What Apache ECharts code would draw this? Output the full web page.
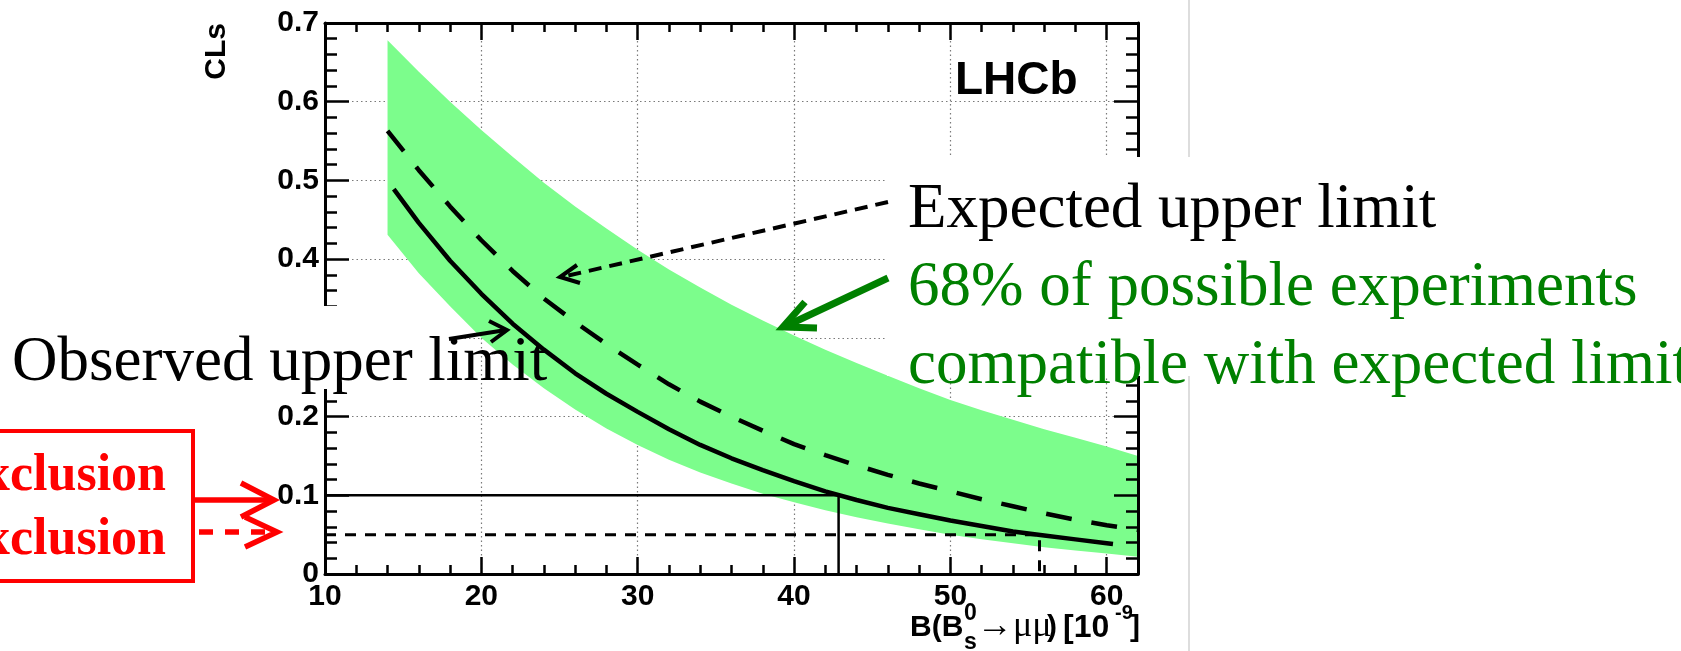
<!DOCTYPE html>
<html>
<head>
<meta charset="utf-8">
<script src="https://cdn.jsdelivr.net/npm/echarts@6/dist/echarts.min.js"></script>
<style>
  html, body { margin: 0; padding: 0; background: #fff; overflow: hidden; }
  #chart { width: 1681px; height: 651px; }
</style>
</head>
<body>
<div id="chart"></div>
<script>
// values
const xs = [14, 16, 18, 20, 22, 24, 26, 28, 30, 32, 34, 36, 38, 40, 42, 44, 46, 48, 50, 52, 54, 56, 58, 60, 62];
const bandUpper = [0.678, 0.638, 0.600, 0.564, 0.530, 0.497, 0.467, 0.439, 0.412, 0.387, 0.364, 0.342, 0.322, 0.303, 0.285, 0.268, 0.252, 0.236, 0.221, 0.208, 0.196, 0.184, 0.173, 0.162, 0.150];
const bandLower = [0.431, 0.382, 0.340, 0.300, 0.266, 0.236, 0.209, 0.185, 0.164, 0.145, 0.129, 0.115, 0.102, 0.091, 0.081, 0.072, 0.064, 0.057, 0.050, 0.044, 0.039, 0.034, 0.030, 0.026, 0.022];
const expected = [0.563, 0.513, 0.467, 0.424, 0.385, 0.350, 0.320, 0.292, 0.266, 0.241, 0.219, 0.200, 0.182, 0.165, 0.151, 0.138, 0.126, 0.115, 0.105, 0.095, 0.086, 0.077, 0.069, 0.062, 0.056];
const obsX = [14.4, 16, 18, 20, 22, 24, 26, 28, 30, 32, 34, 36, 38, 40, 42, 44, 46, 48, 50, 52, 54, 56, 58, 60, 60.4];
const observed = [0.489, 0.446, 0.398, 0.356, 0.318, 0.285, 0.255, 0.229, 0.206, 0.184, 0.164, 0.147, 0.132, 0.118, 0.105, 0.094, 0.084, 0.076, 0.068, 0.061, 0.054, 0.049, 0.044, 0.039, 0.038];

// CLs thresholds and the limits where the observed curve crosses them
const cl90 = 0.1, limit90 = 42.85;
const cl95 = 0.05, limit95 = 55.7;

const xRange = [10, 62];
const yRange = [0, 0.7];

const SANS = '"Liberation Sans", Arial, sans-serif';
const SERIF = '"Liberation Serif", "Times New Roman", serif';
const GREEN = '#008000';
const RED = '#ff0000';

const plot = { left: 325, top: 23, width: 813, height: 551 };
const tickStyle = { color: '#000', width: 2.5 };
const frameLine = { show: true, onZero: false, lineStyle: { color: '#000', width: 3 } };
const labelStyle = { fontFamily: SANS, fontWeight: 'bold', fontSize: 30, color: '#000' };
const off = { show: false };

function xAxis(gridIndex, position, interval, extra) {
  return Object.assign({
    type: 'value', gridIndex, position, min: xRange[0], max: xRange[1], interval,
    axisLine: off, axisTick: off, axisLabel: off, splitLine: off,
  }, extra);
}

function yAxis(gridIndex, position, extra) {
  return Object.assign({
    type: 'value', gridIndex, position, min: yRange[0], max: yRange[1], interval: 0.1,
    axisLine: off, axisTick: off, axisLabel: off, splitLine: off,
  }, extra);
}

const gridDots = { show: true, lineStyle: { color: '#7a7a7a', width: 1.2, type: [1.5, 3] } };
const yTicks = {
  axisLine: frameLine,
  axisTick: { show: true, inside: true, length: 24, lineStyle: tickStyle },
  minorTick: { show: true, splitNumber: 5, length: 12, lineStyle: tickStyle },
  z: 10,
};

function text(x, y, str, font, fill, align, extra) {
  return Object.assign({
    type: 'text', x, y, z: 80,
    style: { text: str, font, fill, align: align || 'left', verticalAlign: 'middle' },
  }, extra || {});
}

function polyline(points, color, width, dash) {
  return {
    type: 'polyline', z: 80,
    shape: { points },
    style: { stroke: color, lineWidth: width, fill: null, lineDash: dash || null, lineJoin: 'miter' },
  };
}

// 68% band: polygon along the upper edge and back along the lower edge
function renderBand(params, api) {
  const top = xs.map((x, i) => api.coord([x, bandUpper[i]]));
  const bottom = xs.map((x, i) => api.coord([x, bandLower[i]])).reverse();
  return {
    type: 'polygon',
    shape: { points: top.concat(bottom) },
    style: { fill: '#7cfd8c' },
  };
}

const option = {
  animation: false,
  backgroundColor: '#fff',
  grid: [Object.assign({}, plot), Object.assign({}, plot), Object.assign({}, plot)],
  xAxis: [
    xAxis(0, 'bottom', 10, { splitLine: gridDots }),
    xAxis(1, 'bottom', 10, {
      z: 10, axisLine: frameLine,
      axisTick: { show: true, inside: true, length: 17, lineStyle: tickStyle },
      axisLabel: Object.assign({ show: true, margin: 8, showMaxLabel: false }, labelStyle),
    }),
    xAxis(1, 'top', 10, {
      z: 10, axisLine: frameLine,
      axisTick: { show: true, inside: true, length: 17, lineStyle: tickStyle },
    }),
    xAxis(2, 'bottom', 2, { z: 10, axisTick: { show: true, inside: true, length: 9, lineStyle: tickStyle } }),
    xAxis(2, 'top', 2, { z: 10, axisTick: { show: true, inside: true, length: 9, lineStyle: tickStyle } }),
  ],
  yAxis: [
    yAxis(0, 'left', { splitLine: gridDots }),
    yAxis(1, 'left', Object.assign({
      axisLabel: Object.assign({ show: true, margin: 6 }, labelStyle),
    }, yTicks)),
    yAxis(1, 'right', yTicks),
    yAxis(2, 'left', { show: false }),
  ],
  series: [
    {
      type: 'custom', silent: true, z: 2,
      data: [[xs[0], bandLower[0]]],
      renderItem: renderBand,
    },
    {
      type: 'line', symbol: 'none', z: 3,
      data: [[xRange[0], cl90], [limit90, cl90], [limit90, 0]],
      lineStyle: { color: '#000', width: 2.5 },
    },
    {
      type: 'line', symbol: 'none', z: 3,
      data: [[xRange[0], cl95], [limit95, cl95], [limit95, 0]],
      lineStyle: { color: '#000', width: 3, type: [11, 9] },
    },
    {
      type: 'line', symbol: 'none', z: 4,
      data: xs.map((x, i) => [x, expected[i]]),
      lineStyle: { color: '#000', width: 4.5, type: [26, 20] },
    },
    {
      type: 'line', symbol: 'none', z: 4,
      data: obsX.map((x, i) => [x, observed[i]]),
      lineStyle: { color: '#000', width: 4.5 },
    },
  ],
  graphic: [
    // slide divider and the white boxes behind the annotations
    { type: 'line', z: 50, shape: { x1: 1189, y1: 0, x2: 1189, y2: 651 }, style: { stroke: '#d2d2d2', lineWidth: 1.5 } },
    { type: 'rect', z: 60, shape: { x: 887, y: 157, width: 800, height: 219 }, style: { fill: '#fff' } },
    { type: 'rect', z: 60, shape: { x: 0, y: 306, width: 448, height: 83 }, style: { fill: '#fff' } },

    // axis titles and experiment label
    text(217, 23, 'CLs', 'bold 30px ' + SANS, '#000', 'right', { rotation: Math.PI / 2 }),
    text(955, 81, 'LHCb', 'bold 46px ' + SANS, '#000'),
    text(910, 628, 'B(B', 'bold 30px ' + SANS, '#000'),
    text(964, 614, '0', 'bold 23px ' + SANS, '#000'),
    text(964, 643, 's', 'bold 23px ' + SANS, '#000'),
    text(977, 627, '→μμ', '36px ' + SERIF, '#000'),
    text(1047, 628, ')', 'bold 30px ' + SANS, '#000'),
    text(1063, 628, '[10', 'bold 32px ' + SANS, '#000'),
    text(1115, 613, '-9', 'bold 20px ' + SANS, '#000'),
    text(1140, 628, ']', 'bold 30px ' + SANS, '#000', 'right'),

    // annotations
    text(908, 210, 'Expected upper limit', '63px ' + SERIF, '#000'),
    text(908, 288, '68% of possible experiments', '63px ' + SERIF, GREEN),
    text(908, 366, 'compatible with expected limit', '63px ' + SERIF, GREEN),
    text(12, 363, 'Observed upper limit', '63px ' + SERIF, '#000'),

    polyline([[888, 202], [562, 277]], '#000', 4, [13, 8]),
    polyline([[577, 265], [560, 277], [580, 283]], '#000', 4),
    polyline([[449, 339], [506, 330]], '#000', 4),
    polyline([[489, 321], [507, 330], [491, 342]], '#000', 4),
    polyline([[888, 278], [786, 326]], GREEN, 7),
    polyline([[805, 302], [783, 327], [817, 328]], GREEN, 7),

    // exclusion legend box on the left
    { type: 'rect', z: 70, shape: { x: -10, y: 431, width: 203, height: 150 }, style: { fill: '#fff', stroke: RED, lineWidth: 4 } },
    text(166, 477, '90% CL exclusion', 'bold 52px ' + SERIF, RED, 'right'),
    text(166, 541, '95% CL exclusion', 'bold 52px ' + SERIF, RED, 'right'),
    polyline([[193, 500], [270, 500]], RED, 5.5),
    polyline([[241, 483], [274, 500], [241, 517]], RED, 5.5),
    polyline([[199, 532], [270, 532]], RED, 5.5, [14, 12]),
    polyline([[245, 517], [277, 532], [245, 547]], RED, 5.5),
  ],
};

const chart = echarts.init(document.getElementById('chart'));
chart.setOption(option);
window.addEventListener('resize', () => chart.resize());
</script>
</body>
</html>
